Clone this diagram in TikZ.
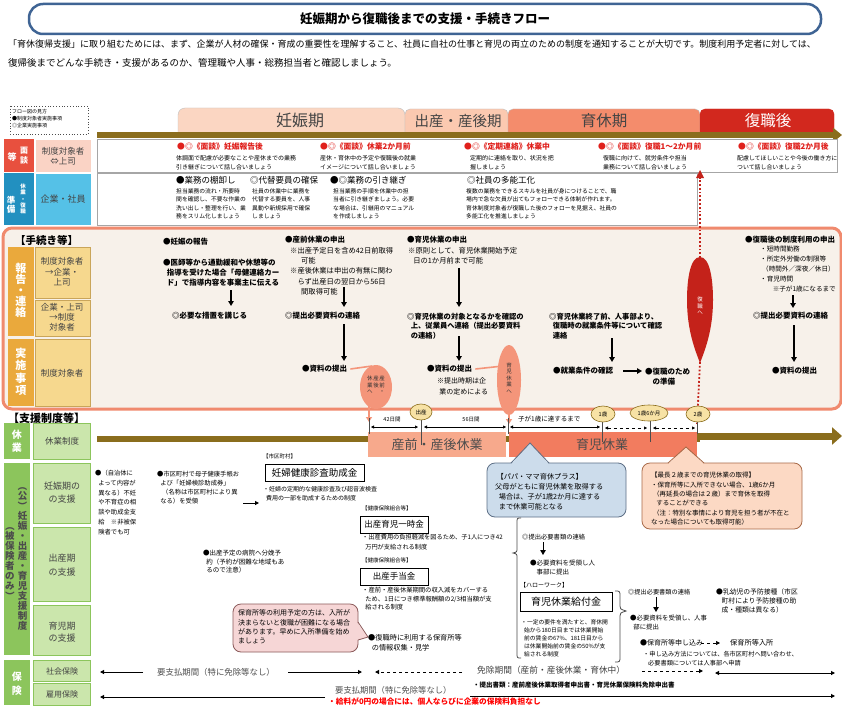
\documentclass[tikz,border=0pt]{standalone}
\usepackage{fontspec}
\setmainfont{Noto Sans CJK JP}
\usepackage{graphicx}
\usetikzlibrary{arrows.meta,shapes.geometric}
\definecolor{titleblue}{HTML}{3F6494}
\definecolor{olive}{HTML}{8A6D1D}
\definecolor{tabA}{HTML}{FBD6C2}
\definecolor{tabB}{HTML}{FBC9B0}
\definecolor{tabC}{HTML}{F48C6C}
\definecolor{tabD}{HTML}{D2281E}
\definecolor{redlab}{HTML}{E8503E}
\definecolor{pinklab}{HTML}{FAD3C5}
\definecolor{bluelab}{HTML}{2290C0}
\definecolor{ltblue}{HTML}{55C1E7}
\definecolor{orlab}{HTML}{EAA93C}
\definecolor{tanlab}{HTML}{F6D88E}
\definecolor{tanbd}{HTML}{C9A55A}
\definecolor{grlab}{HTML}{8CC55C}
\definecolor{ltgreen}{HTML}{CBE6AC}
\definecolor{salmonb}{HTML}{F08A6E}
\definecolor{procbg}{HTML}{F7F1EA}
\definecolor{headred}{HTML}{E0201C}
\definecolor{kyuA}{HTML}{F7A98C}
\definecolor{kyuB}{HTML}{F27C5F}
\definecolor{markc}{HTML}{F7E2A5}
\definecolor{bubB}{HTML}{CCDCEB}
\definecolor{bubBd}{HTML}{5D6F86}
\definecolor{bubO}{HTML}{FCD9C4}
\definecolor{bubOd}{HTML}{A86A48}
\definecolor{bubP}{HTML}{F6D6D6}
\definecolor{bubPd}{HTML}{8B5A5A}
\definecolor{fukured}{HTML}{C4221A}
\definecolor{ellsal}{HTML}{F4957A}
\definecolor{txgray}{HTML}{444444}
\newcommand\fs[2]{\fontsize{#1}{#2}\selectfont}
\newcommand\rp[1]{\rotatebox[origin=c]{-90}{#1}}
\newcommand\vcol[1]{\begin{tabular}[t]{@{}c@{}}#1\end{tabular}}
\begin{document}
\begin{tikzpicture}[x=1pt,y=-1pt,
  tx/.style={inner sep=0pt,anchor=west},
  ml/.style={inner sep=0pt,anchor=north west,align=left},
  ct/.style={inner sep=0pt,align=center},
  barr/.style={line width=1.3pt,-{Triangle[length=5pt,width=5.5pt]}},
  thinar/.style={line width=0.7pt,-{Triangle[length=4pt,width=4pt]}},
  dimar/.style={line width=0.5pt,{Triangle[length=3pt,width=3pt]}-{Triangle[length=3pt,width=3pt]}},
  salar/.style={ellsal,line width=1.6pt},
  lbox/.style={draw=white,line width=0.6pt},
  tbox/.style={draw=black,line width=1pt,fill=white,inner sep=0pt},
  markn/.style={ellipse,draw=olive,fill=markc,line width=0.6pt,minimum height=16pt,inner sep=0pt,font=\fs{5.5}{6}}]
\useasboundingbox (0,0) rectangle (842,706);
\fill[white] (0,0) rectangle (842,706);

% ---------- title & intro
\node[draw=titleblue,line width=2.5pt,rounded corners=14pt,minimum width=792pt,minimum height=30pt,fill=white,inner sep=0pt,font=\fs{12.5}{14}\bfseries] (title) at (425,19) {妊娠期から復職後までの支援・手続きフロー};
\node[tx,font=\fs{9}{11}] (intro1) at (8,44) {「育休復帰支援」に取り組むためには、まず、企業が人材の確保・育成の重要性を理解すること、社員に自社の仕事と育児の両立のための制度を通知することが大切です。制度利用予定者に対しては、};
\node[tx,font=\fs{9.5}{11}] (intro2) at (8,63) {復帰後までどんな手続き・支援があるのか、管理職や人事・総務担当者と確認しましょう。};

% ---------- legend
\draw[dotted,line width=0.8pt,gray!60!black] (10,106) rectangle (88,134);
\node[ml,font=\fs{5}{7}] (legend) at (12,109.5) {フロー図の見方\\●制度対象者実施事項\\◎企業実施事項};

% ---------- phase tabs
\draw[fill=tabA,draw=gray!50,rounded corners=7pt] (178,133) -- (178,108) -- (405,108) -- (405,133);
\draw[fill=tabB,draw=gray!50,rounded corners=5pt] (405,133) -- (405,109) -- (508,109) -- (508,133);
\draw[fill=tabC,draw=gray!50,rounded corners=5pt] (508,133) -- (508,109) -- (700,109) -- (700,133);
\draw[fill=tabD,draw=tabD,rounded corners=5pt] (700,133) -- (700,109) -- (834,109) -- (834,133);
\node[ct,font=\fs{16}{18},text=txgray] (tabAt) at (300,120) {妊娠期};
\node[ct,font=\fs{14.5}{16},text=txgray] (tabBt) at (458,121) {出産・産後期};
\node[ct,font=\fs{15.5}{17},text=txgray] (tabCt) at (604,121) {育休期};
\node[ct,font=\fs{15.5}{17},text=white] (tabDt) at (768,121) {復職後};
\draw[olive,line width=6pt,-{Triangle[length=9pt,width=14pt]}] (97,135) -- (842,135);

% ---------- row 1 : 面談等
\fill[redlab] (4,139) rectangle (34,172);
\draw[lbox,fill=pinklab] (35,139) rectangle (91,172);
\draw[gray!70,fill=white] (97,139) rectangle (837,172);
\node[ct,font=\fs{9}{10}\bfseries,text=white] (l1a) at (12,157) {等};
\node[ct,font=\fs{8}{10}\bfseries,text=white] (l1b) at (24,156) {面\\談};
\node[ct,font=\fs{8.5}{10},text=txgray] (l1c) at (63,156) {制度対象者\\⇔上司};
\begin{scope}[every node/.append style={font=\fs{7.8}{9}\bfseries,text=headred}]
\node[tx] (r1a) at (177,147) {●◎《面談》妊娠報告後};
\node[tx] (r1b) at (320,147) {●◎《面談》休業2か月前};
\node[tx] (r1c) at (464,147) {●◎《定期連絡》休業中};
\node[tx] (r1d) at (598,147) {●◎《面談》復職1～2か月前};
\node[tx] (r1e) at (738,147) {●◎《面談》復職2か月後};
\end{scope}
\begin{scope}[every node/.append style={font=\fs{6}{8.8}}]
\node[ml] (r1as) at (176,155.3) {体調面で配慮が必要なことや産休までの業務\\引き継ぎについて話し合いましょう};
\node[ml] (r1bs) at (320,155.3) {産休・育休中の予定や復職後の就業\\イメージについて話し合いましょう};
\node[ml] (r1cs) at (470,155.3) {定期的に連絡を取り、状況を把\\握しましょう};
\node[ml] (r1ds) at (603,155.3) {復職に向けて、就労条件や担当\\業務について話し合いましょう};
\node[ml,font=\fs{5.9}{8.8}] (r1es) at (737,155.3) {配慮してほしいことや今後の働き方に\\ついて話し合いましょう};
\end{scope}

% ---------- row 2 : 休業・復職準備
\fill[bluelab] (4,173) rectangle (34,225);
\draw[lbox,fill=ltblue] (35,173) rectangle (91,225);
\draw[gray!70,fill=white] (97,173) rectangle (697,225);
\node[ct,font=\fs{8.5}{9}\bfseries,text=white] (l2a) at (11,205) {準\\備};
\node[ct,font=\fs{5.5}{6.4}\bfseries,text=white] (l2b) at (23,199) {休\\業\\・\\復\\職};
\node[ct,font=\fs{9}{10},text=txgray] (l2c) at (63,199) {企業・社員};
\begin{scope}[every node/.append style={font=\fs{8.5}{10}}]
\node[tx] (r2a) at (176,180) {●業務の棚卸し};
\node[tx] (r2b) at (250,180) {◎代替要員の確保};
\node[tx] (r2c) at (330,180) {●◎業務の引き継ぎ};
\node[tx] (r2d) at (467,180) {◎社員の多能工化};
\end{scope}
\begin{scope}[every node/.append style={font=\fs{5.8}{8.3}}]
\node[ml] (r2as) at (176,188.4) {担当業務の流れ・所要時\\間を確認し、不要な作業の\\洗い出し・整理を行い、業\\務をスリム化しましょう};
\node[ml] (r2bs) at (252,188.4) {社員の休業中に業務を\\代替する要員を、人事\\異動や新規採用で確保\\しましょう};
\node[ml] (r2cs) at (333,188.4) {担当業務の手順を休業中の担\\当者に引き継ぎましょう。必要\\な場合は、引継用のマニュアル\\を作成しましょう};
\node[ml] (r2ds) at (466,188.4) {複数の業務をできるスキルを社員が身につけることで、職\\場内で急な欠員が出てもフォローできる体制が作れます。\\育休制度対象者が復職した後のフォローを見据え、社員の\\多能工化を推進しましょう};
\end{scope}

% ---------- 手続き等 block
\draw[salmonb,line width=3pt,fill=procbg,rounded corners=9pt] (3,228) rectangle (841,409);
\node[tx,font=\fs{10.5}{12}\bfseries] (proct) at (15,240) {【手続き等】};
\fill[orlab] (8,247) rectangle (34,336);
\draw[tanbd,fill=tanlab] (35,247) rectangle (90,298);
\draw[tanbd,fill=tanlab] (35,300) rectangle (90,336);
\fill[orlab] (8,339) rectangle (34,406);
\draw[tanbd,fill=tanlab] (35,339) rectangle (90,406);
\node[ct,font=\fs{11}{11}\bfseries,text=white] (l3a) at (21,290) {報\\告\\・\\連\\絡};
\node[ct,font=\fs{8.5}{10.5},text=txgray] (l3b) at (62,272) {制度対象者\\→企業・\\上司};
\node[ct,font=\fs{8.5}{10},text=txgray] (l3c) at (62,317) {企業・上司\\→制度\\対象者};
\node[ct,font=\fs{11}{12.5}\bfseries,text=white] (l3d) at (21,372) {実\\施\\事\\項};
\node[ct,font=\fs{8.5}{10},text=txgray] (l3e) at (62,373) {制度対象者};

\begin{scope}[every node/.append style={font=\fs{7.5}{10}\bfseries}]
\node[tx] (p1) at (163,242) {●妊娠の報告};
\node[ml] (p2) at (163,258.6) {●医師等から通勤緩和や休憩等の\\\hspace*{0.5em}指導を受けた場合「母健連絡カー\\\hspace*{0.5em}ド」で指導内容を事業主に伝える};
\node[tx] (p3) at (172,316) {◎必要な措置を講じる};
\node[tx] (p4) at (285,240) {●産前休業の申出};
\node[tx] (p6) at (285,316) {◎提出必要資料の連絡};
\node[tx] (p7) at (302,369) {●資料の提出};
\node[tx] (p8) at (407,240) {●育児休業の申出};
\node[ml,font=\fs{7.3}{9.7}\bfseries] (p10) at (407,312.6) {◎育児休業の対象となるかを確認の\\\hspace*{0.5em}上、従業員へ連絡（提出必要資料\\\hspace*{0.5em}の連絡）};
\node[tx] (p11) at (427,369) {●資料の提出};
\node[ml,font=\fs{7.3}{9.7}\bfseries] (p13) at (549,312.6) {◎育児休業終了前、人事部より、\\\hspace*{0.5em}復職時の就業条件等について確認\\\hspace*{0.5em}連絡};
\node[tx] (p14) at (553,371) {●就業条件の確認};
\node[ml] (p15) at (645,367.6) {●復職のため\\\hspace*{1em}の準備};
\node[tx] (p16) at (745,240) {●復職後の制度利用の申出};
\node[tx] (p18) at (753,316) {◎提出必要資料の連絡};
\node[tx] (p19) at (772,371) {●資料の提出};
\end{scope}
\node[ml,font=\fs{7.3}{10.4}] (p5) at (290,246.7) {※出産予定日を含め42日前取得\\\hspace*{1.5em}可能\\※産後休業は申出の有無に関わ\\\hspace*{1em}らず出産日の翌日から56日\\\hspace*{1.5em}間取得可能};
\node[ml,font=\fs{7.3}{10}] (p9) at (408,246.7) {※原則として、育児休業開始予定\\\hspace*{0.7em}日の1か月前まで可能};
\node[ml,font=\fs{7}{11}] (p12) at (437,377.8) {※提出時期は企\\\hspace*{0.3em}業の定めによる};
\node[ml,font=\fs{6.6}{10}] (p17) at (760,245.8) {・短時間勤務\\・所定外労働の制限等\\\hspace*{0.3em}（時間外／深夜／休日）\\・育児時間\\\hspace*{1.9em}※子が1歳になるまで};

% procedure arrows
\draw[barr] (231,290) coordinate (a1s) -- (231,306) coordinate (a1e);
\draw[barr] (344,287) coordinate (a2s) -- (344,307) coordinate (a2e);
\draw[barr] (344,324) coordinate (a3s) -- (344,361) coordinate (a3e);
\draw[barr] (459,268) coordinate (a4s) -- (459,307) coordinate (a4e);
\draw[barr] (459,336) coordinate (a5s) -- (459,361) coordinate (a5e);
\draw[barr] (612,338) coordinate (a6s) -- (612,362) coordinate (a6e);
\draw[barr] (623,371) coordinate (a7s) -- (642,371) coordinate (a7e);
\draw[barr] (793,295) coordinate (a8s) -- (793,308) coordinate (a8e);
\draw[barr] (794,325) coordinate (a9s) -- (794,362) coordinate (a9e);

% salmon ellipses
\draw[salar] ([xshift=3pt]p7.east) -- (372,366);
\draw[salar,-{Triangle[length=5pt,width=6pt]}] (369,404) -- (369,422);
\node[ellipse,fill=ellsal,minimum width=32pt,minimum height=44pt,inner sep=0pt] (e1) at (376,387) {};
\node[ct,font=\fs{5.5}{6.3},text=black!80] (e1t) at (376,386) {\vcol{休\\業\\へ}\hspace{0.6pt}\vcol{産\\後}\hspace{0.6pt}\vcol{産\\前\\・}};
\draw[salar] ([xshift=3pt]p11.east) -- (503,366);
\draw[salar,-{Triangle[length=5pt,width=6pt]}] (509,410) -- (509,424);
\node[ellipse,fill=ellsal,minimum width=24pt,minimum height=70pt,inner sep=0pt] (e2) at (509,380) {};
\node[ct,font=\fs{5.5}{6.4},text=black!80] (e2t) at (509,378) {育\\児\\休\\業\\へ};

% red 復職へ
\draw[fukured,line width=1.8pt,dotted] (700,258) -- (700,178);
\fill[fukured] (700,170) -- (696,178) -- (704,178) -- cycle;
\draw[fukured,line width=1.8pt,dotted] (700,362) -- (697,424);
\fill[fukured] (700,257) .. controls (710,257) and (713,280) .. (713,300) .. controls (713,330) and (705,350) .. (700,363) .. controls (695,350) and (687,330) .. (687,300) .. controls (687,280) and (690,257) .. (700,257);
\node[ct,font=\fs{5.5}{6.5},text=white] (e3t) at (700,306) {復\\職\\へ};

% ---------- 支援制度等
\node[tx,font=\fs{11}{12}\bfseries] (supt) at (8,418) {【支援制度等】};
\fill[grlab] (4,423) rectangle (30,459);
\draw[grlab,fill=ltgreen] (33,423) rectangle (90,459);
\fill[grlab] (4,463) rectangle (30,655);
\draw[grlab,fill=ltgreen] (33,463) rectangle (90,523);
\draw[grlab,fill=ltgreen] (33,527) rectangle (90,601);
\draw[grlab,fill=ltgreen] (33,605) rectangle (90,655);
\fill[grlab] (4,660) rectangle (30,705);
\draw[grlab,fill=ltgreen] (33,660) rectangle (90,681);
\draw[grlab,fill=ltgreen] (33,683) rectangle (90,705);
\node[ct,font=\fs{10}{13}\bfseries,text=white] (l4a) at (17,441) {休\\業};
\node[ct,font=\fs{8.5}{10},text=txgray] (l4b) at (62,441) {休業制度};
\node[ct,font=\fs{9.5}{10}\bfseries,text=black!70] (l5a) at (22.5,556) {\rp{（}\\公\\\rp{）}\\妊\\娠\\・\\出\\産\\・\\育\\児\\支\\援\\制\\度};
\node[ct,font=\fs{9.5}{10}\bfseries,text=black!70] (l5b) at (10,561) {\rp{（}\\被\\保\\険\\者\\の\\み\\\rp{）}};
\node[ct,font=\fs{9}{13},text=txgray] (l5c) at (62,493) {妊娠期の\\の支援};
\node[ct,font=\fs{9}{14},text=txgray] (l5d) at (62,565) {出産期\\の支援};
\node[ct,font=\fs{9}{12},text=txgray] (l5e) at (62,632) {育児期\\の支援};
\node[ct,font=\fs{10}{14}\bfseries,text=white] (l6a) at (17,684) {保\\険};
\node[ct,font=\fs{8}{10},text=txgray] (l6b) at (62,671) {社会保険};
\node[ct,font=\fs{8}{10},text=txgray] (l6c) at (62,694) {雇用保険};

% timeline bar and leave boxes
\draw[olive,line width=6pt] (97,439) -- (700,439);
\draw[olive,line width=7pt,-{Triangle[length=10pt,width=17pt]}] (697,436) -- (842,436);
\fill[kyuA] (368,432) rectangle (506,457);
\fill[kyuB] (509,432) rectangle (697,457);
\node[ct,font=\fs{13}{14},text=black!70] (k1) at (437,445) {産前・産後休業};
\node[ct,font=\fs{13}{14},text=black!70] (k2) at (602,445) {育児休業};
\draw[black!70,line width=0.6pt] (369,418) -- (369,434);
\draw[black!70,line width=0.6pt] (508,418) -- (508,434);
\draw[black!70,line width=0.6pt] (421,419) -- (421,445);
\draw[black!70,line width=0.6pt] (602,421) -- (602,442);
\draw[black!70,line width=0.6pt] (650,420) -- (650,442);
\draw[black!70,line width=0.6pt] (697,421) -- (697,434);
\node[markn,minimum width=22pt] (m1) at (421,412) {出産};
\node[markn,minimum width=24pt] (m2) at (603,414) {1歳};
\node[markn,minimum width=38pt] (m3) at (649,413) {1歳6か月};
\node[markn,minimum width=24pt] (m4) at (698,414) {2歳};
\draw[dimar] (371,427) -- (418,427);
\draw[dimar] (424,427) -- (506,427);
\draw[dimar] (510,427) -- (600,427);
\draw[dimar,dashed] (605,428) -- (647,428);
\draw[dimar,dashed] (653,428) -- (695,428);
\node[ct,font=\fs{5.5}{6}] (d1) at (392,420) {42日間};
\node[ct,font=\fs{5.5}{6}] (d2) at (471,420) {56日間};
\node[tx,font=\fs{6.5}{7}] (d3) at (518,419) {子が1歳に達するまで};

% ---------- bubbles
\draw[bubBd,fill=bubB,line width=0.8pt,rounded corners=8pt] (487,463) rectangle (626,517);
\fill[bubB] (511,464.2) -- (530,443) -- (549,464.2) -- cycle;
\draw[bubBd,line width=0.8pt] (511,463) -- (530,443) -- (549,463);
\node[ml,font=\fs{7.2}{10}] (bb) at (495,472.8) {\hspace*{0.2em}【パパ・ママ育休プラス】\\父母がともに育児休業を取得する\\\hspace*{0.5em}場合は、子が1歳2か月に達する\\\hspace*{0.5em}まで休業可能となる};

\draw[bubOd,fill=bubO,line width=0.8pt,rounded corners=8pt] (642,463) rectangle (802,529);
\fill[bubO] (668,464.2) -- (686,447) -- (704,464.2) -- cycle;
\draw[bubOd,line width=0.8pt] (668,463) -- (686,447) -- (704,463);
\node[ml,font=\fs{6.5}{9.4}] (bo) at (651,472) {【最長２歳までの育児休業の取得】\\・保育所等に入所できない場合、1歳6か月\\\hspace*{0.3em}（再延長の場合は２歳）まで育休を取得\\\hspace*{0.8em}することができる\\\hspace*{0.3em}（注：特別な事情により育児を担う者が不在と\\なった場合についても取得可能）};

\draw[bubPd,fill=bubP,line width=0.8pt,rounded corners=8pt] (233,604) rectangle (358,652);
\fill[bubP] (356.8,622) -- (368,637) -- (356.8,640) -- cycle;
\draw[bubPd,line width=0.8pt] (358,622) -- (368,637) -- (358,640);
\node[ml,font=\fs{7}{9.2}] (bp) at (238,609.8) {保育所等の利用予定の方は、入所が\\決まらないと復職が困難になる場合\\があります。早めに入所準備を始め\\ましょう};

% ---------- support texts
\node[ml,font=\fs{6.3}{9.7}] (s1) at (95,470.2) {●（自治体に\\\hspace*{0.5em}よって内容が\\\hspace*{0.5em}異なる）不妊\\\hspace*{0.5em}や不育症の相\\\hspace*{0.5em}談や助成金支\\\hspace*{0.5em}給　※非被保\\\hspace*{0.5em}険者でも可};
\node[ml,font=\fs{6.3}{9}] (s2) at (157,471.2) {●市区町村で母子健康手帳お\\\hspace*{0.5em}よび「妊婦検診助成券」\\\hspace*{0.8em}（名称は市区町村により異\\\hspace*{0.5em}なる）を受領};
\draw[thinar,line width=1pt] (243,503) coordinate (a10s) -- (259,503) coordinate (a10e);
\node[tx,font=\fs{5.5}{6}] (s3) at (263,456) {【市区町村】};
\node[tbox,minimum width=99pt,minimum height=17pt,font=\fs{9.5}{10}] (n1) at (314.5,472.5) {妊婦健康診査助成金};
\node[ml,font=\fs{6}{8.5}] (s4) at (263,486.3) {・妊婦の定期的な健康診査及び超音波検査\\\hspace*{0.5em}費用の一部を助成するための制度};
\node[tx,font=\fs{5.5}{6}] (s5) at (362,508) {【健康保険組合等】};
\node[tbox,minimum width=68pt,minimum height=17pt,font=\fs{8.5}{10}] (n2) at (394,524.5) {出産育児一時金};
\node[ml,font=\fs{6.2}{9.5}] (s6) at (362,534.2) {・出産費用の負担軽減を図るため、子1人につき42\\\hspace*{0.5em}万円が支給される制度};
\node[tx,font=\fs{5.5}{6}] (s7) at (362,560) {【健康保険組合等】};
\node[tbox,minimum width=68pt,minimum height=17pt,font=\fs{8.5}{10}] (n3) at (394,576.5) {出産手当金};
\node[ml,font=\fs{6.3}{8.6}] (s8) at (362,587.2) {・産前・産後休業期間の収入減をカバーする\\\hspace*{0.5em}ため、1日につき標準報酬額の2/3相当額が支\\\hspace*{0.5em}給される制度};
\node[ml,font=\fs{6.5}{8.5}] (s9) at (203,550) {●出産予定の病院へ分娩予\\\hspace*{0.5em}約（予約が困難な地域もあ\\\hspace*{0.5em}るので注意）};
\node[ml,font=\fs{7.2}{10.5}] (s10) at (368,633.8) {●復職時に利用する保育所等\\\hspace*{0.5em}の情報収集・見学};

\draw[gray!60!black,line width=0.8pt] (521,518) .. controls (517,518) .. (517,523) -- (517,548) .. controls (517,552) .. (513,553) .. controls (517,554) .. (517,558) -- (517,653) .. controls (517,658) .. (521,658);
\node[tx,font=\fs{6.3}{7}] (s11) at (522,537) {◎提出必要書類の連絡};
\draw[barr,line width=1pt] (543,542) coordinate (a11s) -- (543,555) coordinate (a11e);
\node[ml,font=\fs{6.5}{9}] (s12) at (530,560) {●必要資料を受領し人\\\hspace*{1em}事部に提出};
\node[tx,font=\fs{6}{7}] (s13) at (520,585) {【ハローワーク】};
\node[tbox,minimum width=92pt,minimum height=19pt,font=\fs{10}{11}] (n4) at (566,601.5) {育児休業給付金};
\node[ml,font=\fs{5.8}{8.1}] (s14) at (521,619.4) {・一定の要件を満たすと、育休開\\\hspace*{0.5em}始から180日目までは休業開始\\\hspace*{0.5em}前の賃金の67\%、181日目から\\\hspace*{0.5em}は休業開始前の賃金の50\%が支\\\hspace*{0.5em}給される制度};
\draw[gray!60!black,line width=0.8pt] (615,591) .. controls (620,591) .. (620,597) -- (620,606) .. controls (620,609) .. (626,611) .. controls (620,613) .. (620,616) -- (620,656) .. controls (620,662) .. (615,662);
\node[tx,font=\fs{6.2}{7}] (s15) at (628,592) {◎提出必要書類の連絡};
\draw[barr,line width=1pt] (656,597) coordinate (a12s) -- (656,612) coordinate (a12e);
\node[ml,font=\fs{6.4}{9}] (s16) at (630,615.2) {●必要資料を受領し、人事\\\hspace*{0.5em}部に提出};
\node[ml,font=\fs{6.8}{9}] (s17) at (716,588) {●乳幼児の予防接種（市区\\\hspace*{0.8em}町村により予防接種の助\\\hspace*{0.8em}成・種類は異なる）};
\node[tx,font=\fs{7}{8}] (s18) at (640,643) {●保育所等申し込み};
\draw[thinar,dashed] (701,643) coordinate (a13s) -- (720,643) coordinate (a13e);
\node[tx,font=\fs{7.2}{8}] (s19) at (730,643) {保育所等入所};
\node[ml,font=\fs{6.2}{8.5}] (s20) at (643,651.2) {・申し込み方法については、各市区町村へ問い合わせ、\\\hspace*{0.8em}必要書類については人事部へ申請};

% ---------- insurance
\draw[thinar,line width=1pt] (143,672) coordinate (i1s) -- (100,672) coordinate (i1e);
\node[tx,font=\fs{8.4}{9},text=black!70] (i2) at (157,672) {要支払期間（特に免除等なし）};
\draw[thinar,line width=1pt] (288,672) coordinate (i3s) -- (362,672) coordinate (i3e);
\draw[thinar,line width=1pt,dashed] (462,672) coordinate (i4s) -- (375,672) coordinate (i4e);
\node[tx,font=\fs{8.7}{9},text=black!75] (i5) at (477,670) {免除期間（産前・産後休業・育休中）};
\draw[thinar,line width=1pt,dashed] (642,671) coordinate (i6s) -- (703,671) coordinate (i6e);
\draw[line width=1pt,{Triangle[length=4pt,width=4pt]}-{Triangle[length=4pt,width=4pt]}] (715,673) coordinate (i7s) -- (835,673) coordinate (i7e);
\node[tx,font=\fs{6.5}{7}\bfseries] (i8) at (473,685) {・提出書類：産前産後休業取得者申出書・育児休業保険料免除申出書};
\draw[thinar,line width=1pt] (325,697) coordinate (i9s) -- (100,697) coordinate (i9e);
\node[tx,font=\fs{8.3}{9},text=black!70] (i10) at (335,690) {要支払期間（特に免除等なし）};
\draw[thinar,line width=1pt] (470,696) coordinate (i11s) -- (835,696) coordinate (i11e);
\node[tx,font=\fs{7.7}{8}\bfseries,text=red] (i12) at (328,702) {・給料が0円の場合には、個人ならびに企業の保険料負担なし};
\end{tikzpicture}
\end{document}
